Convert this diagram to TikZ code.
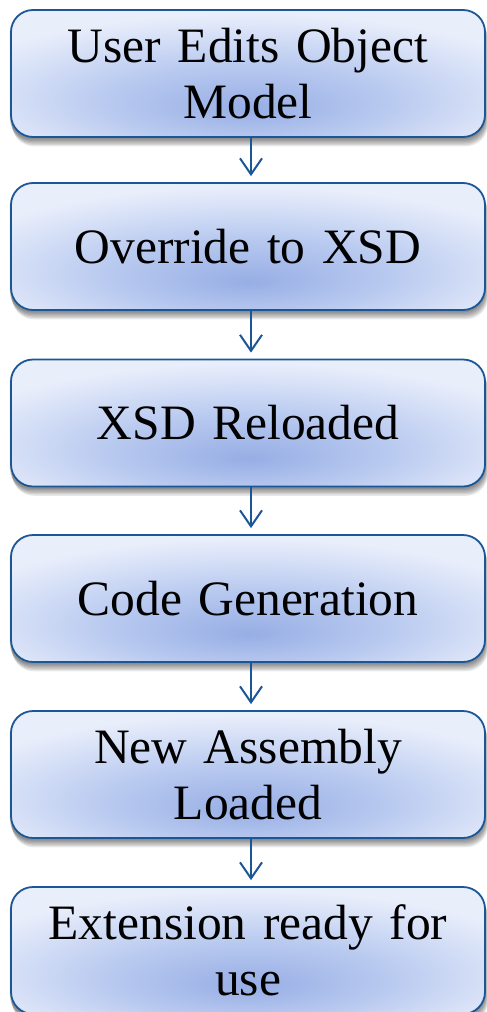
\documentclass[tikz,border=0pt]{standalone}
\usepackage{fontspec}
\setmainfont{Liberation Serif}
\usetikzlibrary{arrows.meta,backgrounds}
\definecolor{cdark}{HTML}{97AEE5}
\definecolor{cmid}{HTML}{B9CAF0}
\definecolor{clight}{HTML}{E9EEFB}
\definecolor{bord}{HTML}{1B5797}
\pgfdeclareradialshading{boxshade}{\pgfpoint{0bp}{-14bp}}{color(0bp)=(cdark); color(15bp)=(cmid); color(32bp)=(clight); color(80bp)=(clight)}
\tikzset{
  stepbox/.style={draw=bord, line width=1.8pt, rounded corners=22pt, shading=boxshade,
    minimum width=474pt, minimum height=127pt, text width=470pt, align=center,
    inner sep=0pt, font=\fontsize{49.5}{56}\selectfont},
  flow/.style={draw=bord, line width=2pt,
    -{Straight Barb[length=16pt,width=22pt,line width=2pt]}, shorten >=6pt},
  shadowpart/.style={fill=black, opacity=0.09, rounded corners=22pt}
}
\begin{document}
\begin{tikzpicture}[x=1pt,y=-1pt]
\useasboundingbox (0,0) rectangle (487,1012);
\node[stepbox] (b1) at (248,73.5) {User Edits Object\\Model};
\node[stepbox] (b2) at (248,246.5) {Override to XSD};
\node[stepbox] (b3) at (248,423) {XSD Reloaded};
\node[stepbox] (b4) at (248,598.5) {Code Generation};
\node[stepbox] (b5) at (248,774.5) {New Assembly\\Loaded};
\node[stepbox] (b6) at (248,950.5) {Extension ready for\\use};
\begin{pgfonlayer}{background}
\fill[white] (0,0) rectangle (487,1012);
\foreach \b in {b1,b2,b3,b4,b5,b6}{
  \foreach \s in {1,2,3,4,5,6}{
    \fill[shadowpart] ([shift={(\s*0.5pt-1pt,-\s*1.4pt)}]\b.north west) rectangle ([shift={(\s*0.5pt-1pt,-\s*1.4pt)}]\b.south east);
  }
}
\end{pgfonlayer}
\draw[flow] ([xshift=3pt]b1.south) -- ([xshift=3pt]b2.north);
\draw[flow] ([xshift=3pt]b2.south) -- ([xshift=3pt]b3.north);
\draw[flow] ([xshift=3pt]b3.south) -- ([xshift=3pt]b4.north);
\draw[flow] ([xshift=3pt]b4.south) -- ([xshift=3pt]b5.north);
\draw[flow] ([xshift=3pt]b5.south) -- ([xshift=3pt]b6.north);
\end{tikzpicture}
\end{document}
